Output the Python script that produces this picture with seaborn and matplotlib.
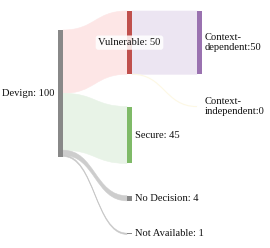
import matplotlib.pyplot as plt
import seaborn as sns
from matplotlib.path import Path
from matplotlib.patches import PathPatch, Rectangle

# data
node_names = ['Devign', 'Vulnerable', 'Secure', 'No Decision', 'Not Available',
              'Context-dependent', 'Context-independent']
node_labels = ['Devign: 100', 'Vulnerable: 50', 'Secure: 45', 'No Decision: 4',
               'Not Available: 1', 'Context-\ndependent:50', 'Context-\nindependent:0']
node_column = [0, 1, 1, 1, 1, 2, 2]
sources = ['Devign', 'Devign', 'Devign', 'Devign', 'Vulnerable', 'Vulnerable']
targets = ['Vulnerable', 'Secure', 'No Decision', 'Not Available',
           'Context-dependent', 'Context-independent']
values = [50, 45, 4, 1, 50, 0]

node_colors = ['#888888', '#c0504d', '#7fba68', '#888888', '#888888', '#9a72b0', '#f2e27a']
link_colors = ['#fde6e6', '#e8f3e7', '#cdcdcd', '#c8c8c8', '#ece5f2', '#fdf8e4']

sns.set_theme(style='white')
plt.rcParams['font.family'] = ['Liberation Serif', 'DejaVu Serif']

# layout (pixels)
col_x = [58, 127, 197]
col_top = [30, 11, 11]
node_w = 5
scale = 1.265
gap = 32.3

n = len(node_names)
idx = {name: i for i, name in enumerate(node_names)}
inflow = [0] * n
outflow = [0] * n
for s, t, v in zip(sources, targets, values):
    outflow[idx[s]] += v
    inflow[idx[t]] += v
node_val = [max(a, b) for a, b in zip(inflow, outflow)]

node_y = [0] * n
cursor = dict(enumerate(col_top))
for i in range(n):
    c = node_column[i]
    node_y[i] = cursor[c]
    cursor[c] += node_val[i] * scale + gap

fig = plt.figure(figsize=(2.7, 2.48), dpi=100)
ax = fig.add_axes([0, 0, 1, 1])
ax.set_xlim(0, 270)
ax.set_ylim(248, 0)
ax.axis('off')

# links
out_off = [0.0] * n
in_off = [0.0] * n
for s, t, v, col in zip(sources, targets, values, link_colors):
    si, ti = idx[s], idx[t]
    x0 = col_x[node_column[si]] + node_w
    x1 = col_x[node_column[ti]]
    xm = (x0 + x1) / 2
    y0a = node_y[si] + out_off[si]
    y1a = node_y[ti] + in_off[ti]
    h = v * scale
    out_off[si] += h
    in_off[ti] += h
    if v == 0:
        p = Path([(x0, y0a), (xm, y0a), (xm, y1a), (x1, y1a)],
                 [Path.MOVETO, Path.CURVE4, Path.CURVE4, Path.CURVE4])
        ax.add_patch(PathPatch(p, fill=False, edgecolor=col, lw=0.8))
        continue
    y0b, y1b = y0a + h, y1a + h
    verts = [(x0, y0a), (xm, y0a), (xm, y1a), (x1, y1a),
             (x1, y1b), (xm, y1b), (xm, y0b), (x0, y0b), (x0, y0a)]
    codes = [Path.MOVETO, Path.CURVE4, Path.CURVE4, Path.CURVE4,
             Path.LINETO, Path.CURVE4, Path.CURVE4, Path.CURVE4, Path.CLOSEPOLY]
    ax.add_patch(PathPatch(Path(verts, codes), facecolor=col, edgecolor=col, lw=0.4))

# nodes + labels
fs = 7.6
for i in range(n):
    x = col_x[node_column[i]]
    y = node_y[i]
    h = node_val[i] * scale
    if h > 0:
        ax.add_patch(Rectangle((x, y), node_w, h, facecolor=node_colors[i], edgecolor='none'))
    yc = y + h / 2
    if node_column[i] == 0:
        ax.text(x - 3, yc, node_labels[i], ha='right', va='center', fontsize=fs, color='#111111')
    elif node_names[i] == 'Vulnerable':
        ax.text(x + node_w / 2, yc, node_labels[i], ha='center', va='center', fontsize=fs,
                color='#111111',
                bbox=dict(boxstyle='round,pad=0.25', facecolor='white', edgecolor='none', alpha=0.85))
    else:
        ax.text(x + node_w + 3, yc, node_labels[i], ha='left', va='center', fontsize=fs,
                color='#111111', linespacing=1.25)

fig.savefig('out.png', dpi=100)
